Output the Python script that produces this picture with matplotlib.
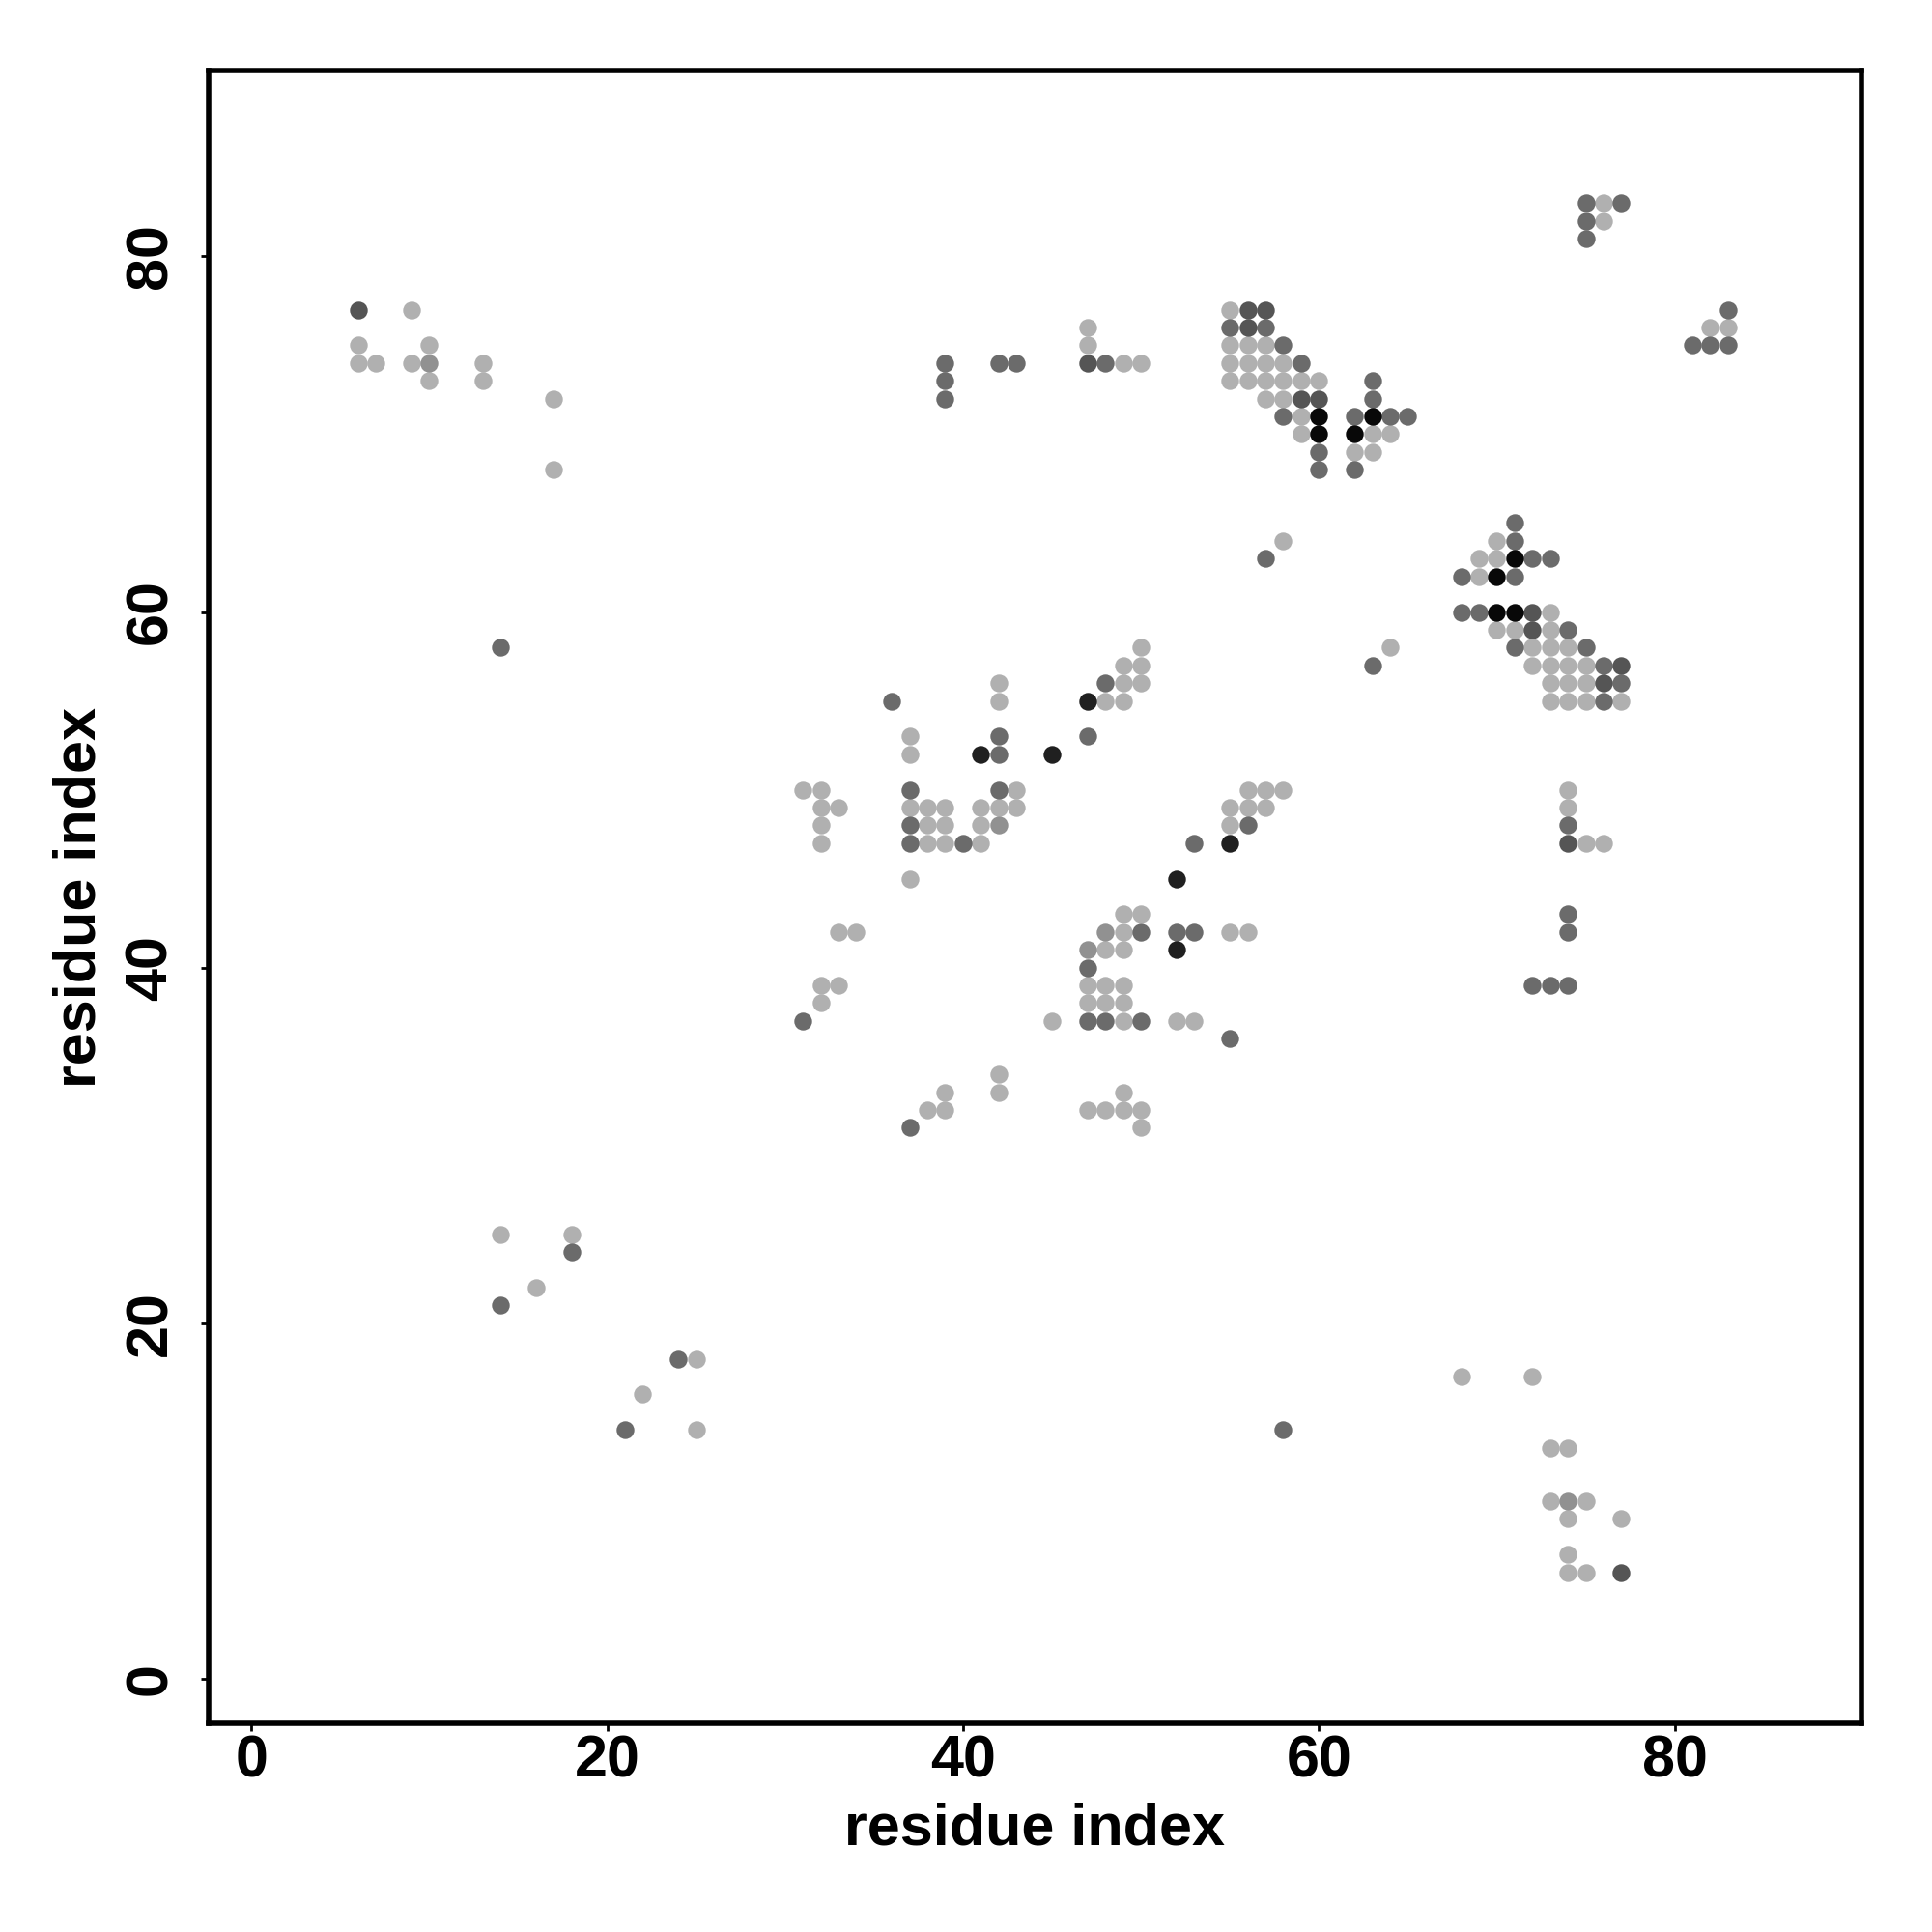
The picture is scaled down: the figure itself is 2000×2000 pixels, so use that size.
import matplotlib
matplotlib.use("Agg")
import matplotlib.pyplot as plt

# contact points grouped by grey level (x = residue i, y = residue j)
light_x = [6, 6, 7, 9, 9, 10, 10, 13, 13, 17, 17,
           14, 18, 16, 25, 22, 25,
           47, 47, 49, 50,
           55, 55, 56, 57, 55, 56, 57, 58, 55, 56, 57, 58, 59, 60, 57, 58, 59, 59, 63, 64, 62, 63,
           76, 76, 82, 83,
           58, 70, 69, 70, 69, 73, 70, 71, 73, 72, 73, 74, 64,
           72, 73, 74, 75, 73, 74, 75, 73, 74, 75, 77,
           74, 74, 75, 76,
           50, 49, 50, 42, 49, 50, 42, 48, 49,
           37, 37,
           31, 32, 43, 56, 57, 58,
           32, 33, 37, 38, 39, 41, 42, 43, 55, 56, 57,
           32, 38, 39, 41, 55,
           32, 38, 39, 41,
           37,
           49, 50,
           33, 34, 49, 55, 56,
           48, 49,
           32, 33, 47, 48, 49,
           32, 47, 48, 49,
           45, 49, 52, 53,
           42, 39, 42, 49,
           38, 39, 47, 48, 49, 50, 50,
           68, 72, 73, 74, 73, 75, 74, 77, 74, 74, 75]
light_y = [75, 74, 74, 77, 74, 75, 73, 74, 73, 72, 68,
           25, 25, 22, 18, 16, 14,
           76, 75, 74, 74,
           77, 75, 75, 75, 74, 74, 74, 74, 73, 73, 73, 73, 73, 73, 72, 72, 71, 70, 70, 70, 69, 69,
           83, 82, 76, 76,
           64, 64, 63, 63, 62, 60, 59, 59, 59, 58, 58, 58, 58,
           57, 57, 57, 57, 56, 56, 56, 55, 55, 55, 55,
           50, 49, 47, 47,
           58, 57, 57, 56, 56, 56, 55, 55, 55,
           53, 52,
           50, 50, 50, 50, 50, 50,
           49, 49, 49, 49, 49, 49, 49, 49, 49, 49, 49,
           48, 48, 48, 48, 48,
           47, 47, 47, 47,
           45,
           43, 43,
           42, 42, 42, 42, 42,
           41, 41,
           39, 39, 39, 39, 39,
           38, 38, 38, 38,
           37, 37, 37, 37,
           34, 33, 33, 33,
           32, 32, 32, 32, 32, 32, 31,
           17, 17, 13, 13, 10, 10, 9, 9, 7, 6, 6]

mid_x = [10, 42, 48, 47, 74]
mid_y = [74, 48, 42, 41, 10]

dark_x = [14, 39, 39, 39, 42, 43, 48,
          55, 57, 58, 59, 58, 62, 64, 65, 63, 63, 60, 60, 62,
          75, 77, 75, 75, 83, 81, 82, 83,
          57, 71, 71, 72, 73, 68, 71, 68, 69, 74, 71, 75,
          63, 76, 77, 76,
          74, 74, 74, 72, 73, 74,
          36, 48, 42, 47, 42,
          37, 42, 37, 56, 37, 40, 53,
          50, 52, 53, 47,
          31, 47, 48, 50, 55, 37,
          18, 14, 24, 21, 58]
dark_y = [58, 74, 73, 72, 74, 74, 74,
          76, 76, 75, 74, 71, 71, 71, 71, 73, 72, 69, 68, 68,
          83, 83, 82, 81, 77, 75, 75, 75,
          63, 65, 64, 63, 63, 62, 62, 60, 60, 59, 58, 58,
          57, 57, 56, 55,
          48, 43, 42, 39, 39, 39,
          55, 56, 53, 53, 52,
          50, 50, 48, 48, 47, 47, 47,
          42, 42, 42, 40,
          37, 37, 37, 37, 36, 31,
          24, 21, 18, 14, 14]

darker_x = [6, 47, 56, 57, 56, 59, 60, 72, 72, 77, 76, 74, 77]
darker_y = [77, 74, 77, 77, 76, 72, 72, 60, 59, 57, 56, 47, 6]

nearblack_x = [41, 45, 47, 52, 55, 52]
nearblack_y = [52, 52, 55, 45, 47, 41]

black_x = [60, 60, 63, 62, 71, 70, 70, 71]
black_y = [71, 70, 71, 70, 63, 62, 60, 60]

ticks = [0, 20, 40, 60, 80]


def main():
    plt.rcParams["font.family"] = ["Liberation Sans", "DejaVu Sans"]
    plt.rcParams["font.weight"] = "bold"

    fig = plt.figure(figsize=(10, 10), dpi=200)
    ax = fig.add_axes([0.108, 0.108, 0.8555, 0.8555])

    groups = [
        (light_x, light_y, "#b0b0b0"),
        (mid_x, mid_y, "#919191"),
        (dark_x, dark_y, "#6b6b6b"),
        (darker_x, darker_y, "#555555"),
        (nearblack_x, nearblack_y, "#202020"),
        (black_x, black_y, "#080808"),
    ]
    for xs, ys, col in groups:
        ax.scatter(xs, ys, s=44, c=col, linewidths=0, zorder=3)

    ax.set_xlim(-2.4, 90.5)
    ax.set_ylim(-2.5, 90.45)
    ax.set_xticks(ticks)
    ax.set_yticks(ticks)

    for sp in ax.spines.values():
        sp.set_linewidth(2.0)
    ax.tick_params(axis="both", direction="out", length=3, width=1,
                   labelsize=22)
    ax.tick_params(axis="x", pad=1)
    ax.tick_params(axis="y", pad=8, labelrotation=90)
    for lab in ax.get_yticklabels():
        lab.set_va("center")

    ax.set_xlabel("residue index", fontsize=22, fontweight="bold", labelpad=5)
    ax.set_ylabel("residue index", fontsize=22, fontweight="bold", labelpad=6)

    fig.savefig("out.png", dpi=200)


if __name__ == "__main__":
    main()
